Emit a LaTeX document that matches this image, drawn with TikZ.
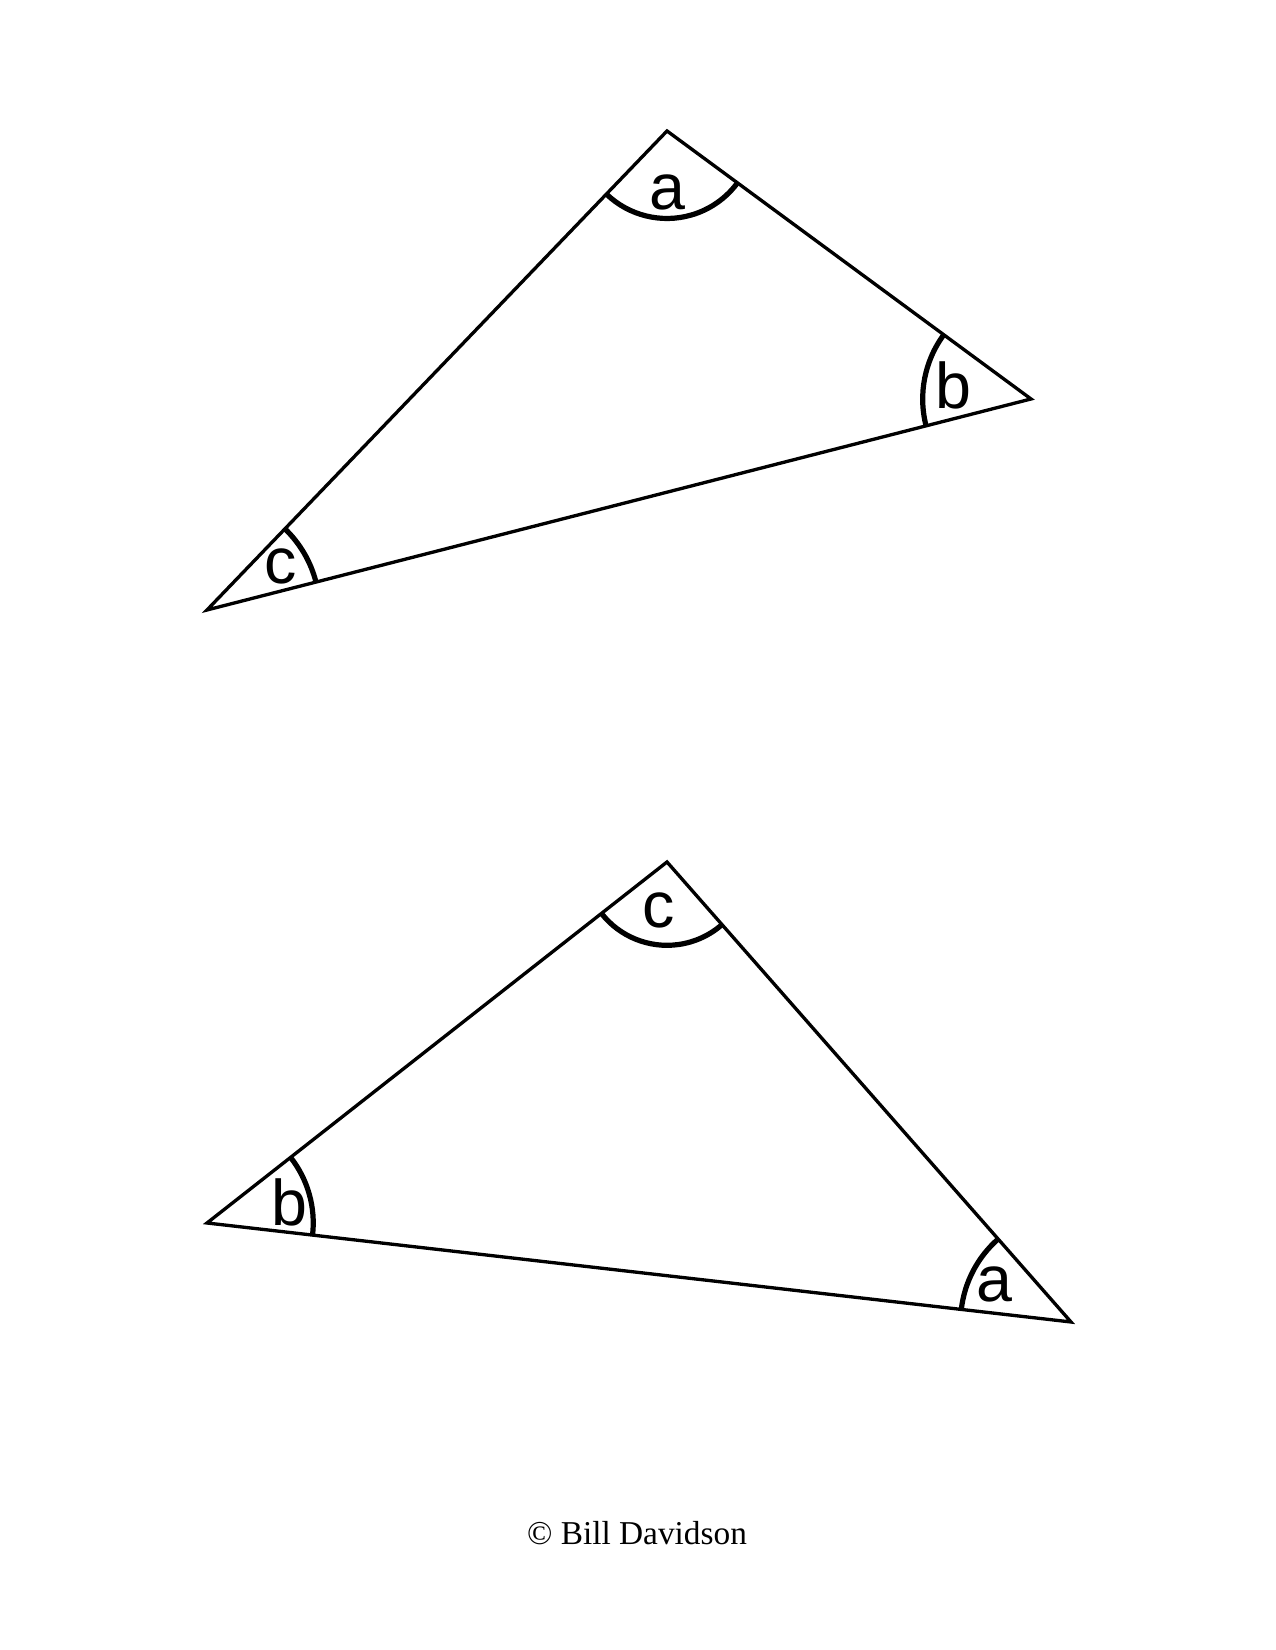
\documentclass[tikz,border=0pt]{standalone}
\usepackage{fontspec}
\setmainfont{Liberation Serif}
\newfontfamily\lblfont{Liberation Sans}
\usetikzlibrary{angles}

\begin{document}
\begin{tikzpicture}[x=0.48pt,y=0.48pt,
  side/.style={line width=1.6pt, line join=miter},
  anglearc/.style={draw, line width=2.5pt},
  lbl/.style={font=\lblfont\fontsize{31}{31}\selectfont}]
\useasboundingbox (0,0) rectangle (1275,1650);
% upper triangle
\coordinate (A1) at (667,1519);
\coordinate (B1) at (1031,1251);
\coordinate (C1) at (207,1040);
\draw[side] (A1) -- (B1) -- (C1) -- cycle;
\pic[anglearc, angle radius=42pt] {angle = C1--A1--B1};
\pic[anglearc, angle radius=52pt] {angle = A1--B1--C1};
\pic[anglearc, angle radius=54pt] {angle = B1--C1--A1};
\node[lbl] (a1) at (667,1458) {a};
\node[lbl] (b1) at (953,1265) {b};
\node[lbl] (c1) at (281,1084) {c};
% lower triangle
\coordinate (C2) at (667,788);
\coordinate (B2) at (207,427);
\coordinate (A2) at (1071,328);
\draw[side] (C2) -- (A2) -- (B2) -- cycle;
\pic[anglearc, angle radius=40pt] {angle = B2--C2--A2};
\pic[anglearc, angle radius=51pt] {angle = A2--B2--C2};
\pic[anglearc, angle radius=53pt] {angle = C2--A2--B2};
\node[lbl] (c2) at (659,740) {c};
\node[lbl] (b2) at (289,448) {b};
\node[lbl] (a2) at (994,366) {a};
% footer
\node[font=\fontsize{16}{16}\selectfont] (credit) at (637,117) {© Bill Davidson};
\end{tikzpicture}
\end{document}
